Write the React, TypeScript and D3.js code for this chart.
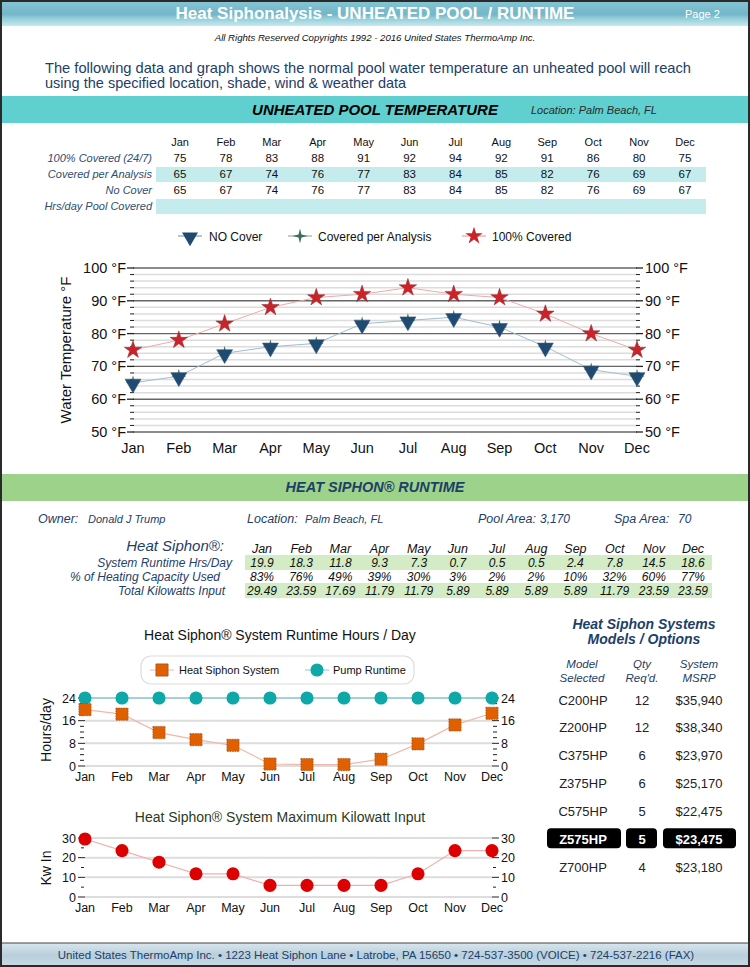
import React from 'react';
import * as d3 from 'd3';

const months = ['Jan', 'Feb', 'Mar', 'Apr', 'May', 'Jun', 'Jul', 'Aug', 'Sep', 'Oct', 'Nov', 'Dec'];
const fullCover = [75, 78, 83, 88, 91, 92, 94, 92, 91, 86, 80, 75];
const coveredPerAnalysis = [65, 67, 74, 76, 77, 83, 84, 85, 82, 76, 69, 67];
const noCover = [65, 67, 74, 76, 77, 83, 84, 85, 82, 76, 69, 67];
const tempTicks = [50, 60, 70, 80, 90, 100];

const runtimeHrs = [19.9, 18.3, 11.8, 9.3, 7.3, 0.7, 0.5, 0.5, 2.4, 7.8, 14.5, 18.6];
const pumpHrs = [24, 24, 24, 24, 24, 24, 24, 24, 24, 24, 24, 24];
const heatingPct = ['83%', '76%', '49%', '39%', '30%', '3%', '2%', '2%', '10%', '32%', '60%', '77%'];
const totalKw = [29.49, 23.59, 17.69, 11.79, 11.79, 5.89, 5.89, 5.89, 5.89, 11.79, 23.59, 23.59];
const hrsTicks = [0, 8, 16, 24];
const kwTicks = [0, 10, 20, 30];

const models = ['C200HP', 'Z200HP', 'C375HP', 'Z375HP', 'C575HP', 'Z575HP', 'Z700HP'];
const qtyReq = [12, 12, 6, 6, 5, 5, 4];
const msrp = ['$35,940', '$38,340', '$23,970', '$25,170', '$22,475', '$23,475', '$23,180'];
const selectedModel = 'Z575HP';

const FONT = '"Liberation Sans", Arial, Helvetica, sans-serif';
const NAVY = '#1d4068';

const star4: d3.SymbolType = {
  draw(ctx: any, size: number) {
    const r = Math.sqrt(size) * 0.75;
    const ri = r * 0.28;
    for (let i = 0; i < 8; i++) {
      const a = (i * Math.PI) / 4 - Math.PI / 2;
      const rr = i % 2 === 0 ? r : ri;
      const x = Math.cos(a) * rr, y = Math.sin(a) * rr;
      if (i === 0) ctx.moveTo(x, y); else ctx.lineTo(x, y);
    }
    ctx.closePath();
  },
};

const sym = (type: d3.SymbolType, size: number) => d3.symbol().type(type).size(size)() as string;

export default function App() {
  // ---------- Temperature chart ----------
  const xT = d3.scalePoint<string>().domain(months).range([133, 637]);
  const yT = d3.scaleLinear().domain([50, 100]).range([432, 268]);
  const minorT = d3.range(52, 100, 2).filter((v) => v % 10 !== 0);
  const lineT = (vals: number[]) =>
    d3.line<number>().x((_, i) => xT(months[i]) as number).y((d) => yT(d))(vals) as string;
  const starPath = sym(d3.symbolStar, 95);
  const triPath = sym(d3.symbolTriangle, 110);
  const star4Path = sym(star4, 100);

  // ---------- Runtime chart ----------
  const xR = d3.scalePoint<string>().domain(months).range([85, 492]);
  const yR = d3.scaleLinear().domain([0, 24]).range([766, 698]);
  const lineR = (vals: number[]) =>
    d3.line<number>().x((_, i) => xR(months[i]) as number).y((d) => yR(d))(vals) as string;
  const minorR = d3.range(2, 24, 2).filter((v) => v % 8 !== 0);

  // ---------- kW chart ----------
  const yK = d3.scaleLinear().domain([0, 30]).range([897, 838]);
  const lineK = (vals: number[]) =>
    d3.line<number>().x((_, i) => xR(months[i]) as number).y((d) => yK(d))(vals) as string;
  const minorK = [5, 15, 25];

  const tableX = d3.scalePoint<string>().domain(months).range([180, 685]);
  const rtX = d3.scalePoint<string>().domain(months).range([262, 693]);
  const modelY = d3.scaleLinear().domain([0, models.length - 1]).range([700, 867]);

  const squarePath = sym(d3.symbolSquare, 150);
  const circlePath = sym(d3.symbolCircle, 135);

  return (
    <svg
      width={750}
      height={967}
      style={{ position: 'absolute', left: 0, top: 0, fontFamily: FONT }}
      xmlns="http://www.w3.org/2000/svg"
    >
      <defs>
        <linearGradient id="hdr" x1="0" y1="0" x2="0" y2="1">
          <stop offset="0" stopColor="#86c6d6" />
          <stop offset="0.55" stopColor="#72b6c8" />
          <stop offset="0.68" stopColor="#8fcad6" />
          <stop offset="1" stopColor="#c4eaee" />
        </linearGradient>
        <linearGradient id="ftr" x1="0" y1="0" x2="0" y2="1">
          <stop offset="0" stopColor="#d8e6ee" />
          <stop offset="0.5" stopColor="#b8cfdc" />
          <stop offset="1" stopColor="#c9dbe5" />
        </linearGradient>
      </defs>
      <rect x={0} y={0} width={750} height={967} fill="#fff" />

      {/* Header */}
      <rect x={0} y={0} width={750} height={26} fill="url(#hdr)" />
      <text x={375} y={19} textAnchor="middle" fill="#fff" fontSize={17} fontWeight="bold">
        Heat Siphonalysis - UNHEATED POOL / RUNTIME
      </text>
      <text x={685} y={18} fill="#fff" fontSize={11}>Page 2</text>
      <text x={375} y={41} textAnchor="middle" fontSize={9.6} fontStyle="italic" fill="#111">
        All Rights Reserved Copyrights 1992 - 2016 United States ThermoAmp Inc.
      </text>
      <text x={45} y={73} fontSize={14.5} fill={NAVY} textLength={646} lengthAdjust="spacingAndGlyphs">
        The following data and graph shows the normal pool water temperature an unheated pool will reach
      </text>
      <text x={45} y={88} fontSize={14.5} fill={NAVY}>
        using the specified location, shade, wind &amp; weather data
      </text>

      {/* Teal band */}
      <rect x={0} y={96} width={750} height={27} fill="#5fcfcf" />
      <text x={375} y={115} textAnchor="middle" fontSize={15} fontWeight="bold" fontStyle="italic" fill="#000">
        UNHEATED POOL TEMPERATURE
      </text>
      <text x={531} y={114} fontSize={11} fontStyle="italic" fill="#2a2a2a">
        Location:  Palm Beach, FL
      </text>

      {/* Temperature table */}
      <rect x={156} y={167} width={550} height={15} fill="#c4ecec" />
      <rect x={156} y={199} width={550} height={15} fill="#c4ecec" />
      {months.map((m) => (
        <text key={'th' + m} x={tableX(m)} y={146} textAnchor="middle" fontSize={11} fill="#111">{m}</text>
      ))}
      {[
        { label: '100% Covered (24/7)', vals: fullCover, y: 162 },
        { label: 'Covered per Analysis', vals: coveredPerAnalysis, y: 178 },
        { label: 'No Cover', vals: noCover, y: 194 },
        { label: 'Hrs/day Pool Covered', vals: [] as number[], y: 210 },
      ].map((r) => (
        <g key={r.label}>
          <text x={152} y={r.y} textAnchor="end" fontSize={11} fontStyle="italic" fill="#2d4d6e">{r.label}</text>
          {r.vals.map((v, i) => (
            <text key={i} x={tableX(months[i])} y={r.y} textAnchor="middle" fontSize={11.5} fill="#111">{v}</text>
          ))}
        </g>
      ))}

      {/* Temperature legend */}
      <g fontSize={12} fill="#111">
        <line x1={178} x2={202} y1={236} y2={236} stroke="#b8c6d0" strokeWidth={2} />
        <path d={triPath} transform="translate(190,237) rotate(180)" fill="#1f4a72" />
        <text x={209} y={240.5}>NO Cover</text>
        <line x1={288} x2={312} y1={236} y2={236} stroke="#c4ccc8" strokeWidth={2} />
        <path d={star4Path} transform="translate(300,236)" fill="#3e6e58" />
        <text x={318} y={240.5}>Covered per Analysis</text>
        <line x1={462} x2={486} y1={236} y2={236} stroke="#efc8c8" strokeWidth={2} />
        <path d={starPath} transform="translate(474,236)" fill="#cc2229" />
        <text x={492} y={240.5}>100% Covered</text>
      </g>

      {/* Temperature chart grid */}
      {minorT.map((v) => (
        <line key={'mg' + v} x1={133} x2={637} y1={yT(v)} y2={yT(v)} stroke="#dcdcdc" strokeWidth={1.5} />
      ))}
      {tempTicks.map((v) => (
        <line key={'Mg' + v} x1={133} x2={637} y1={yT(v)} y2={yT(v)} stroke="#666" strokeWidth={1.4} />
      ))}
      {minorT.map((v) => (
        <g key={'mt' + v}>
          <line x1={130} x2={134} y1={yT(v)} y2={yT(v)} stroke="#222" strokeWidth={1} />
          <line x1={636} x2={640} y1={yT(v)} y2={yT(v)} stroke="#222" strokeWidth={1} />
        </g>
      ))}
      {tempTicks.map((v) => (
        <g key={'tl' + v}>
          <line x1={127} x2={134} y1={yT(v)} y2={yT(v)} stroke="#222" strokeWidth={1.3} />
          <line x1={636} x2={643} y1={yT(v)} y2={yT(v)} stroke="#222" strokeWidth={1.3} />
          <text x={126} y={yT(v) + 5} textAnchor="end" fontSize={14.5} fill="#111">{v} °F</text>
          <text x={645} y={yT(v) + 5} fontSize={14.5} fill="#111">{v} °F</text>
        </g>
      ))}
      {months.map((m) => (
        <text key={'xl' + m} x={xT(m)} y={453} textAnchor="middle" fontSize={14.5} fill="#111">{m}</text>
      ))}
      <text transform="translate(71,350) rotate(-90)" textAnchor="middle" fontSize={15} fill="#111">
        Water Temperature °F
      </text>

      {/* Temperature series */}
      <path d={lineT(fullCover)} fill="none" stroke="#eeaaaa" strokeWidth={1} />
      <path d={lineT(noCover)} fill="none" stroke="#9fbdd0" strokeWidth={1} />
      {coveredPerAnalysis.map((v, i) => (
        <path key={'cp' + i} d={star4Path} transform={`translate(${xT(months[i])},${yT(v)})`} fill="#3e6e58" />
      ))}
      {noCover.map((v, i) => (
        <path key={'nc' + i} d={triPath} transform={`translate(${xT(months[i])},${yT(v) + 1}) rotate(180)`} fill="#1f4a72" stroke="#40607a" strokeWidth={0.6} />
      ))}
      {fullCover.map((v, i) => (
        <path key={'fc' + i} d={starPath} transform={`translate(${xT(months[i])},${yT(v)})`} fill="#cc2229" stroke="#8a2a2a" strokeWidth={0.5} />
      ))}

      {/* Green band */}
      <rect x={0} y={474} width={750} height={27} fill="#9dd28a" />
      <text x={375} y={492} textAnchor="middle" fontSize={14.5} fontWeight="bold" fontStyle="italic" fill={NAVY}>
        HEAT SIPHON® RUNTIME
      </text>

      {/* Owner line */}
      <g fontStyle="italic" fill={NAVY}>
        <text x={38} y={523} fontSize={12.5}>Owner:</text>
        <text x={88} y={523} fontSize={11}>Donald J Trump</text>
        <text x={247} y={523} fontSize={12.5}>Location:</text>
        <text x={305} y={523} fontSize={11}>Palm Beach, FL</text>
        <text x={478} y={523} fontSize={12.5}>Pool Area:</text>
        <text x={540} y={523} fontSize={12}>3,170</text>
        <text x={614} y={523} fontSize={12.5}>Spa Area:</text>
        <text x={678} y={523} fontSize={12}>70</text>
      </g>

      {/* Runtime table */}
      <rect x={245} y={555} width={467} height={15} fill="#d3ecc5" />
      <rect x={245} y={583} width={467} height={15} fill="#d3ecc5" />
      <text x={224} y={551} textAnchor="end" fontSize={15} fontStyle="italic" fill={NAVY}>Heat Siphon®:</text>
      {months.map((m) => (
        <text key={'rh' + m} x={rtX(m)} y={553} textAnchor="middle" fontSize={12.5} fontStyle="italic" fill="#111">{m}</text>
      ))}
      <text x={232} y={567} textAnchor="end" fontSize={12} fontStyle="italic" fill={NAVY}>System Runtime Hrs/Day</text>
      <text x={220} y={581} textAnchor="end" fontSize={12} fontStyle="italic" fill={NAVY}>% of Heating Capacity Used</text>
      <text x={225} y={595} textAnchor="end" fontSize={12} fontStyle="italic" fill={NAVY}>Total Kilowatts Input</text>
      {runtimeHrs.map((v, i) => (
        <text key={'rv' + i} x={rtX(months[i])} y={567} textAnchor="middle" fontSize={12} fontStyle="italic" fill="#111">{v.toFixed(1)}</text>
      ))}
      {heatingPct.map((v, i) => (
        <text key={'pv' + i} x={rtX(months[i])} y={581} textAnchor="middle" fontSize={12} fontStyle="italic" fill="#111">{v}</text>
      ))}
      {totalKw.map((v, i) => (
        <text key={'kv' + i} x={rtX(months[i])} y={595} textAnchor="middle" fontSize={12} fontStyle="italic" fill="#111">{v.toFixed(2)}</text>
      ))}

      {/* Runtime chart */}
      <text x={280} y={640} textAnchor="middle" fontSize={14} fill="#111">Heat Siphon® System Runtime Hours / Day</text>
      <rect x={141} y={656} width={273} height={28} rx={10} fill="#fff" stroke="#dcdcdc" strokeWidth={1.2} />
      <line x1={150} x2={174} y1={670} y2={670} stroke="#f0b8a8" strokeWidth={1} />
      <path d={squarePath} transform="translate(162,670)" fill="#e06000" stroke="#8a4a20" strokeWidth={0.6} />
      <text x={179} y={674} fontSize={11} fill="#111">Heat Siphon System</text>
      <line x1={305} x2={329} y1={670} y2={670} stroke="#80d0d0" strokeWidth={1} />
      <path d={circlePath} transform="translate(317,670)" fill="#0fa8a8" />
      <text x={333} y={674} fontSize={11} fill="#111">Pump Runtime</text>

      {hrsTicks.map((v) => (
        <line key={'hg' + v} x1={85} x2={492} y1={yR(v)} y2={yR(v)} stroke="#dddddd" strokeWidth={2} />
      ))}
      {minorR.map((v) => (
        <g key={'hm' + v}>
          <line x1={80} x2={84} y1={yR(v)} y2={yR(v)} stroke="#222" strokeWidth={1} />
          <line x1={493} x2={497} y1={yR(v)} y2={yR(v)} stroke="#222" strokeWidth={1} />
        </g>
      ))}
      {hrsTicks.map((v) => (
        <g key={'ht' + v}>
          <line x1={78} x2={85} y1={yR(v)} y2={yR(v)} stroke="#222" strokeWidth={1} />
          <line x1={492} x2={499} y1={yR(v)} y2={yR(v)} stroke="#222" strokeWidth={1} />
          <text x={76} y={yR(v) + 4.5} textAnchor="end" fontSize={12.5} fill="#111">{v}</text>
          <text x={501} y={yR(v) + 4.5} fontSize={12.5} fill="#111">{v}</text>
        </g>
      ))}
      <text transform="translate(51,730) rotate(-90)" textAnchor="middle" fontSize={14} fill="#111">Hours/day</text>
      {months.map((m) => (
        <text key={'rx' + m} x={xR(m)} y={781} textAnchor="middle" fontSize={12.5} fill="#111">{m}</text>
      ))}
      <path d={lineR(pumpHrs)} fill="none" stroke="#6cc8cc" strokeWidth={1.2} />
      <path d={lineR(runtimeHrs)} fill="none" stroke="#f0b8a8" strokeWidth={1.2} />
      {pumpHrs.map((v, i) => (
        <path key={'pp' + i} d={circlePath} transform={`translate(${xR(months[i])},${yR(v)})`} fill="#0fa8a8" />
      ))}
      {runtimeHrs.map((v, i) => (
        <path key={'sq' + i} d={squarePath} transform={`translate(${xR(months[i])},${yR(v)})`} fill="#e06000" stroke="#8a4a20" strokeWidth={0.6} strokeDasharray="1.5 1" />
      ))}

      {/* kW chart */}
      <text x={280} y={822} textAnchor="middle" fontSize={14} fill="#2b3a22">Heat Siphon® System Maximum Kilowatt Input</text>
      {kwTicks.map((v) => (
        <line key={'kg' + v} x1={85} x2={492} y1={yK(v)} y2={yK(v)} stroke="#dddddd" strokeWidth={2} />
      ))}
      {minorK.map((v) => (
        <g key={'km' + v}>
          <line x1={81} x2={84} y1={yK(v)} y2={yK(v)} stroke="#222" strokeWidth={1} />
          <line x1={493} x2={496} y1={yK(v)} y2={yK(v)} stroke="#222" strokeWidth={1} />
        </g>
      ))}
      {kwTicks.map((v) => (
        <g key={'kt' + v}>
          <line x1={78} x2={85} y1={yK(v)} y2={yK(v)} stroke="#222" strokeWidth={1} />
          <line x1={492} x2={499} y1={yK(v)} y2={yK(v)} stroke="#222" strokeWidth={1} />
          <text x={76} y={yK(v) + 4.5} textAnchor="end" fontSize={12.5} fill="#111">{v}</text>
          <text x={501} y={yK(v) + 4.5} fontSize={12.5} fill="#111">{v}</text>
        </g>
      ))}
      <text transform="translate(51,868) rotate(-90)" textAnchor="middle" fontSize={14} fill="#111">Kw In</text>
      {months.map((m) => (
        <text key={'kx' + m} x={xR(m)} y={912} textAnchor="middle" fontSize={12.5} fill="#111">{m}</text>
      ))}
      <path d={lineK(totalKw)} fill="none" stroke="#f0b0b0" strokeWidth={1.2} />
      {totalKw.map((v, i) => (
        <path key={'kc' + i} d={circlePath} transform={`translate(${xR(months[i])},${yK(v)})`} fill="#dd0000" />
      ))}

      {/* Models panel */}
      <text x={644} y={629} textAnchor="middle" fontSize={14} fontWeight="bold" fontStyle="italic" fill={NAVY}>Heat Siphon Systems</text>
      <text x={644} y={644} textAnchor="middle" fontSize={14} fontWeight="bold" fontStyle="italic" fill={NAVY}>Models / Options</text>
      <g fontSize={11.5} fontStyle="italic" fill={NAVY} textAnchor="middle">
        <text x={582} y={668}>Model</text>
        <text x={582} y={681.5}>Selected</text>
        <text x={642} y={668}>Qty</text>
        <text x={642} y={681.5}>Req'd.</text>
        <text x={699} y={668}>System</text>
        <text x={699} y={681.5}>MSRP</text>
      </g>
      {models.map((m, i) => {
        const y = modelY(i);
        const sel = m === selectedModel;
        return (
          <g key={m}>
            {sel && (
              <g>
                <rect x={547} y={y - 11} width={74} height={20} rx={4} fill="#000" />
                <rect x={626} y={y - 11} width={31} height={20} rx={4} fill="#000" />
                <rect x={663} y={y - 11} width={73} height={20} rx={4} fill="#000" />
              </g>
            )}
            <text x={583} y={y + 4.5} textAnchor="middle" fontSize={13} fontWeight={sel ? 'bold' : 'normal'} fill={sel ? '#fff' : '#222'}>{m}</text>
            <text x={642} y={y + 4.5} textAnchor="middle" fontSize={13} fontWeight={sel ? 'bold' : 'normal'} fill={sel ? '#fff' : '#222'}>{qtyReq[i]}</text>
            <text x={699} y={y + 4.5} textAnchor="middle" fontSize={13} fontWeight={sel ? 'bold' : 'normal'} fill={sel ? '#fff' : '#222'}>{msrp[i]}</text>
          </g>
        );
      })}

      {/* Footer */}
      <rect x={0} y={943} width={750} height={24} fill="url(#ftr)" />
      <line x1={0} x2={750} y1={943} y2={943} stroke="#444" strokeWidth={1.2} />
      <text x={376} y={959} textAnchor="middle" fontSize={11.5} fill={NAVY}>
        United States ThermoAmp Inc. • 1223 Heat Siphon Lane  •  Latrobe, PA 15650  •  724-537-3500 (VOICE)  •  724-537-2216 (FAX)
      </text>

      {/* Page border */}
      <rect x={1} y={1} width={748} height={965} fill="none" stroke="#2a2a2a" strokeWidth={2} />
    </svg>
  );
}
